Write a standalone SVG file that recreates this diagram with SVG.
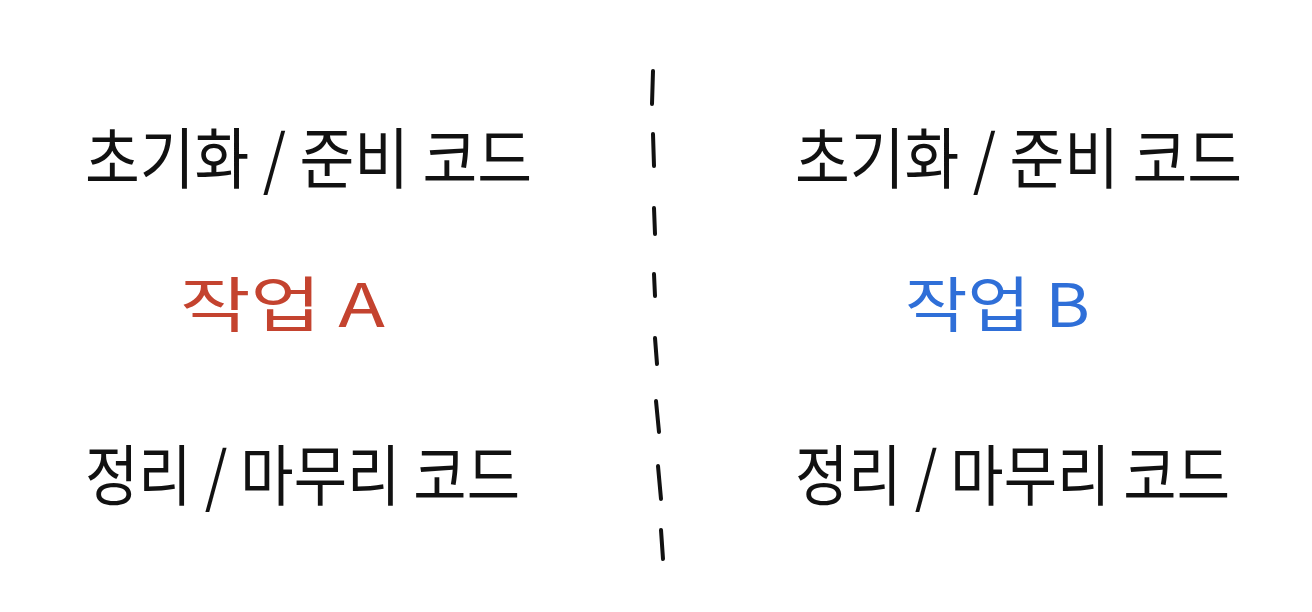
<svg xmlns="http://www.w3.org/2000/svg" width="1312" height="612" viewBox="0 0 1312 612">
<style>
.t{font-family:"Noto Sans CJK KR","Noto Sans",sans-serif;font-weight:400;fill:#111}
.big{font-size:66px}
.mid{font-size:60px}
.red{fill:#c4432f}
.blue{fill:#2f6fd8}
.dash{stroke:#111;stroke-width:4;stroke-linecap:round;fill:none}
</style>
<rect width="1312" height="612" fill="#ffffff"/>
<g id="left">
<g id="left-init"><text class="t big" x="85" y="183" textLength="447" lengthAdjust="spacingAndGlyphs">초기화 / 준비 코드</text></g>
<g id="left-task"><text class="t mid red" x="180" y="327" textLength="205" lengthAdjust="spacingAndGlyphs">작업 A</text></g>
<g id="left-cleanup"><text class="t big" x="85" y="500" textLength="435" lengthAdjust="spacingAndGlyphs">정리 / 마무리 코드</text></g>
</g>
<g id="right">
<g id="right-init"><text class="t big" x="795" y="183" textLength="447" lengthAdjust="spacingAndGlyphs">초기화 / 준비 코드</text></g>
<g id="right-task"><text class="t mid blue" x="905" y="327" textLength="185" lengthAdjust="spacingAndGlyphs">작업 B</text></g>
<g id="right-cleanup"><text class="t big" x="795" y="500" textLength="435" lengthAdjust="spacingAndGlyphs">정리 / 마무리 코드</text></g>
</g>
<g id="connectors">
<path class="dash" d="M653 71 L652 104"/>
<path class="dash" d="M653 134 L654 166"/>
<path class="dash" d="M654 208 L655 234"/>
<path class="dash" d="M654 274 L655 296"/>
<path class="dash" d="M655 338 L657 364"/>
<path class="dash" d="M656 401 L659 432"/>
<path class="dash" d="M658 466 L661 499"/>
<path class="dash" d="M661 530 L663 559"/>
</g>
</svg>
